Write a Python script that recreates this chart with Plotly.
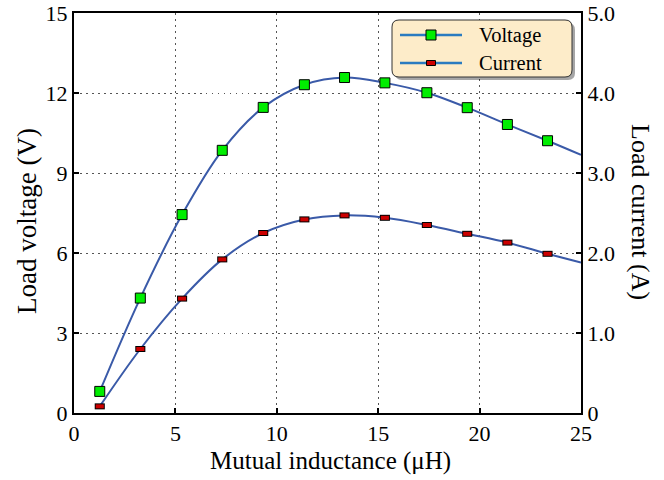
import plotly.graph_objects as go

# ---- data ----
inductance_uH = [1.27, 3.27, 5.33, 7.31, 9.33, 11.36, 13.34, 15.33, 17.4, 19.39, 21.37, 23.35]
voltage_V = [0.81, 4.31, 7.44, 9.85, 11.46, 12.31, 12.58, 12.38, 12.01, 11.45, 10.82, 10.21]
current_A = [0.083, 0.80, 1.43, 1.92, 2.25, 2.42, 2.47, 2.44, 2.35, 2.24, 2.13, 1.99]
# curve continues to the right edge of the axis
curve_end_x = 25.0
voltage_end = 9.68
current_end = 1.88

x_ticks = [0, 5, 10, 15, 20, 25]
v_ticks = [0, 3, 6, 9, 12, 15]
i_ticks = [0, 1, 2, 3, 4, 5]
i_tick_text = ["0", "1.0", "2.0", "3.0", "4.0", "5.0"]
series_names = ["Voltage", "Current"]

FONT = "Liberation Serif, Times New Roman, serif"
CURVE = "#3a5aa8"
LEG_LINE = "#2a7bc0"
GRID = "#555555"
V_COLOR = "#00ee00"
I_COLOR = "#cc0000"

W, H = 664, 480
ML, MR, MT, MB = 74, 83, 13, 67
PW, PH = W - ML - MR, H - MT - MB


def px_x(page_x):
    return (page_x - ML) / PW


def px_y(page_y):
    return (H - MB - page_y) / PH


curve_x = inductance_uH + [curve_end_x]
curve_v = voltage_V + [voltage_end]
curve_i = current_A + [current_end]

fig = go.Figure()

# smooth curves
fig.add_trace(go.Scatter(x=curve_x, y=curve_v, mode="lines", name=series_names[0], showlegend=False,
                         line=dict(color=CURVE, width=2, shape="spline", smoothing=1.0),
                         hoverinfo="skip"))
fig.add_trace(go.Scatter(x=curve_x, y=curve_i, mode="lines", name=series_names[1], showlegend=False,
                         yaxis="y2", line=dict(color=CURVE, width=2, shape="spline", smoothing=1.0),
                         hoverinfo="skip"))

# voltage markers
fig.add_trace(go.Scatter(x=inductance_uH, y=voltage_V, mode="markers", name=series_names[0],
                         showlegend=False,
                         marker=dict(symbol="square", size=10, color=V_COLOR,
                                     line=dict(color="black", width=1))))
# current markers (flat rectangles built from two line-ew layers)
fig.add_trace(go.Scatter(x=inductance_uH, y=current_A, mode="markers", showlegend=False, yaxis="y2",
                         marker=dict(symbol="line-ew", size=7.2,
                                     line=dict(color="black", width=6)), hoverinfo="skip"))
fig.add_trace(go.Scatter(x=inductance_uH, y=current_A, mode="markers", name=series_names[1],
                         showlegend=False, yaxis="y2",
                         marker=dict(symbol="line-ew", size=5.8,
                                     line=dict(color=I_COLOR, width=4))))

axis_common = dict(showline=True, linecolor="black", linewidth=2, ticks="inside",
                   ticklen=5, tickwidth=1.5, tickcolor="black", automargin=False,
                   ticklabeloverflow="allow",
                   tickfont=dict(family=FONT, size=22, color="black"), zeroline=False)


# ---- legend box (rounded, with shadow) ----
def rounded_path(x0, y0, x1, y1, rx, ry):
    return (f"M {x0+rx},{y0} L {x1-rx},{y0} Q {x1},{y0} {x1},{y0+ry} "
            f"L {x1},{y1-ry} Q {x1},{y1} {x1-rx},{y1} L {x0+rx},{y1} "
            f"Q {x0},{y1} {x0},{y1-ry} L {x0},{y0+ry} Q {x0},{y0} {x0+rx},{y0} Z")


bx0, bx1 = px_x(392), px_x(572)
by0, by1 = px_y(77), px_y(20)
rx, ry = 7 / PW, 7 / PH
sx, sy = 3 / PW, 3 / PH

shapes = [
    dict(type="path", xref="paper", yref="paper",
         path=rounded_path(bx0 + sx, by0 - sy, bx1 + sx, by1 - sy, rx, ry),
         fillcolor="rgba(0,0,0,0.35)", line=dict(width=0)),
    dict(type="path", xref="paper", yref="paper",
         path=rounded_path(bx0, by0, bx1, by1, rx, ry),
         fillcolor="#fdecc9", line=dict(color="#333333", width=1)),
]
annotations = []
row_y = [px_y(35), px_y(63)]
lx0, lx1, mx, tx = px_x(400), px_x(462), px_x(431), px_x(477)
marker_half = [(5, 5), (4.5, 2.5)]
marker_fill = [V_COLOR, I_COLOR]
for name, yy, (hw, hh), fc in zip(series_names, row_y, marker_half, marker_fill):
    shapes.append(dict(type="line", xref="paper", yref="paper", x0=lx0, x1=lx1, y0=yy, y1=yy,
                       line=dict(color=LEG_LINE, width=2.5)))
    shapes.append(dict(type="rect", xref="paper", yref="paper",
                       xsizemode="pixel", ysizemode="pixel", xanchor=mx, yanchor=yy,
                       x0=-hw, x1=hw, y0=-hh, y1=hh,
                       fillcolor=fc, line=dict(color="black", width=1)))
    annotations.append(dict(text=name, xref="paper", yref="paper", x=tx, y=yy,
                            xanchor="left", yanchor="middle", showarrow=False,
                            font=dict(family=FONT, size=20.5, color="black")))

# ---- axis titles ----
annotations += [
    dict(text="Mutual inductance (μH)", xref="paper", yref="paper", x=px_x(330), y=px_y(461),
         showarrow=False, xanchor="center", yanchor="middle",
         font=dict(family=FONT, size=25, color="black")),
    dict(text="Load voltage (V)", textangle=-90, xref="paper", yref="paper",
         x=px_x(27), y=px_y(221), showarrow=False, xanchor="center", yanchor="middle",
         font=dict(family=FONT, size=27, color="black")),
    dict(text="Load current (A)", textangle=90, xref="paper", yref="paper",
         x=px_x(641), y=px_y(212), showarrow=False, xanchor="center", yanchor="middle",
         font=dict(family=FONT, size=26, color="black")),
]

fig.update_layout(
    width=W, height=H,
    margin=dict(l=ML, r=MR, t=MT, b=MB),
    paper_bgcolor="white", plot_bgcolor="white",
    font=dict(family=FONT, color="black"),
    showlegend=False,
    xaxis=dict(range=[0, 25], tickvals=x_ticks, showgrid=True, gridcolor=GRID,
               griddash="1.5px,4.5px", gridwidth=1.2, mirror=True, **axis_common),
    yaxis=dict(range=[0, 15], tickvals=v_ticks, showgrid=True, gridcolor=GRID,
               griddash="1.5px,4.5px", gridwidth=1.2, **axis_common),
    yaxis2=dict(range=[0, 5], tickvals=i_ticks, ticktext=i_tick_text, overlaying="y",
                side="right", showgrid=False, **axis_common),
    shapes=shapes,
    annotations=annotations,
)

fig.write_html("out.html", config={"displayModeBar": False},
               post_script="document.body.style.margin='0';document.body.style.overflow='hidden';")
